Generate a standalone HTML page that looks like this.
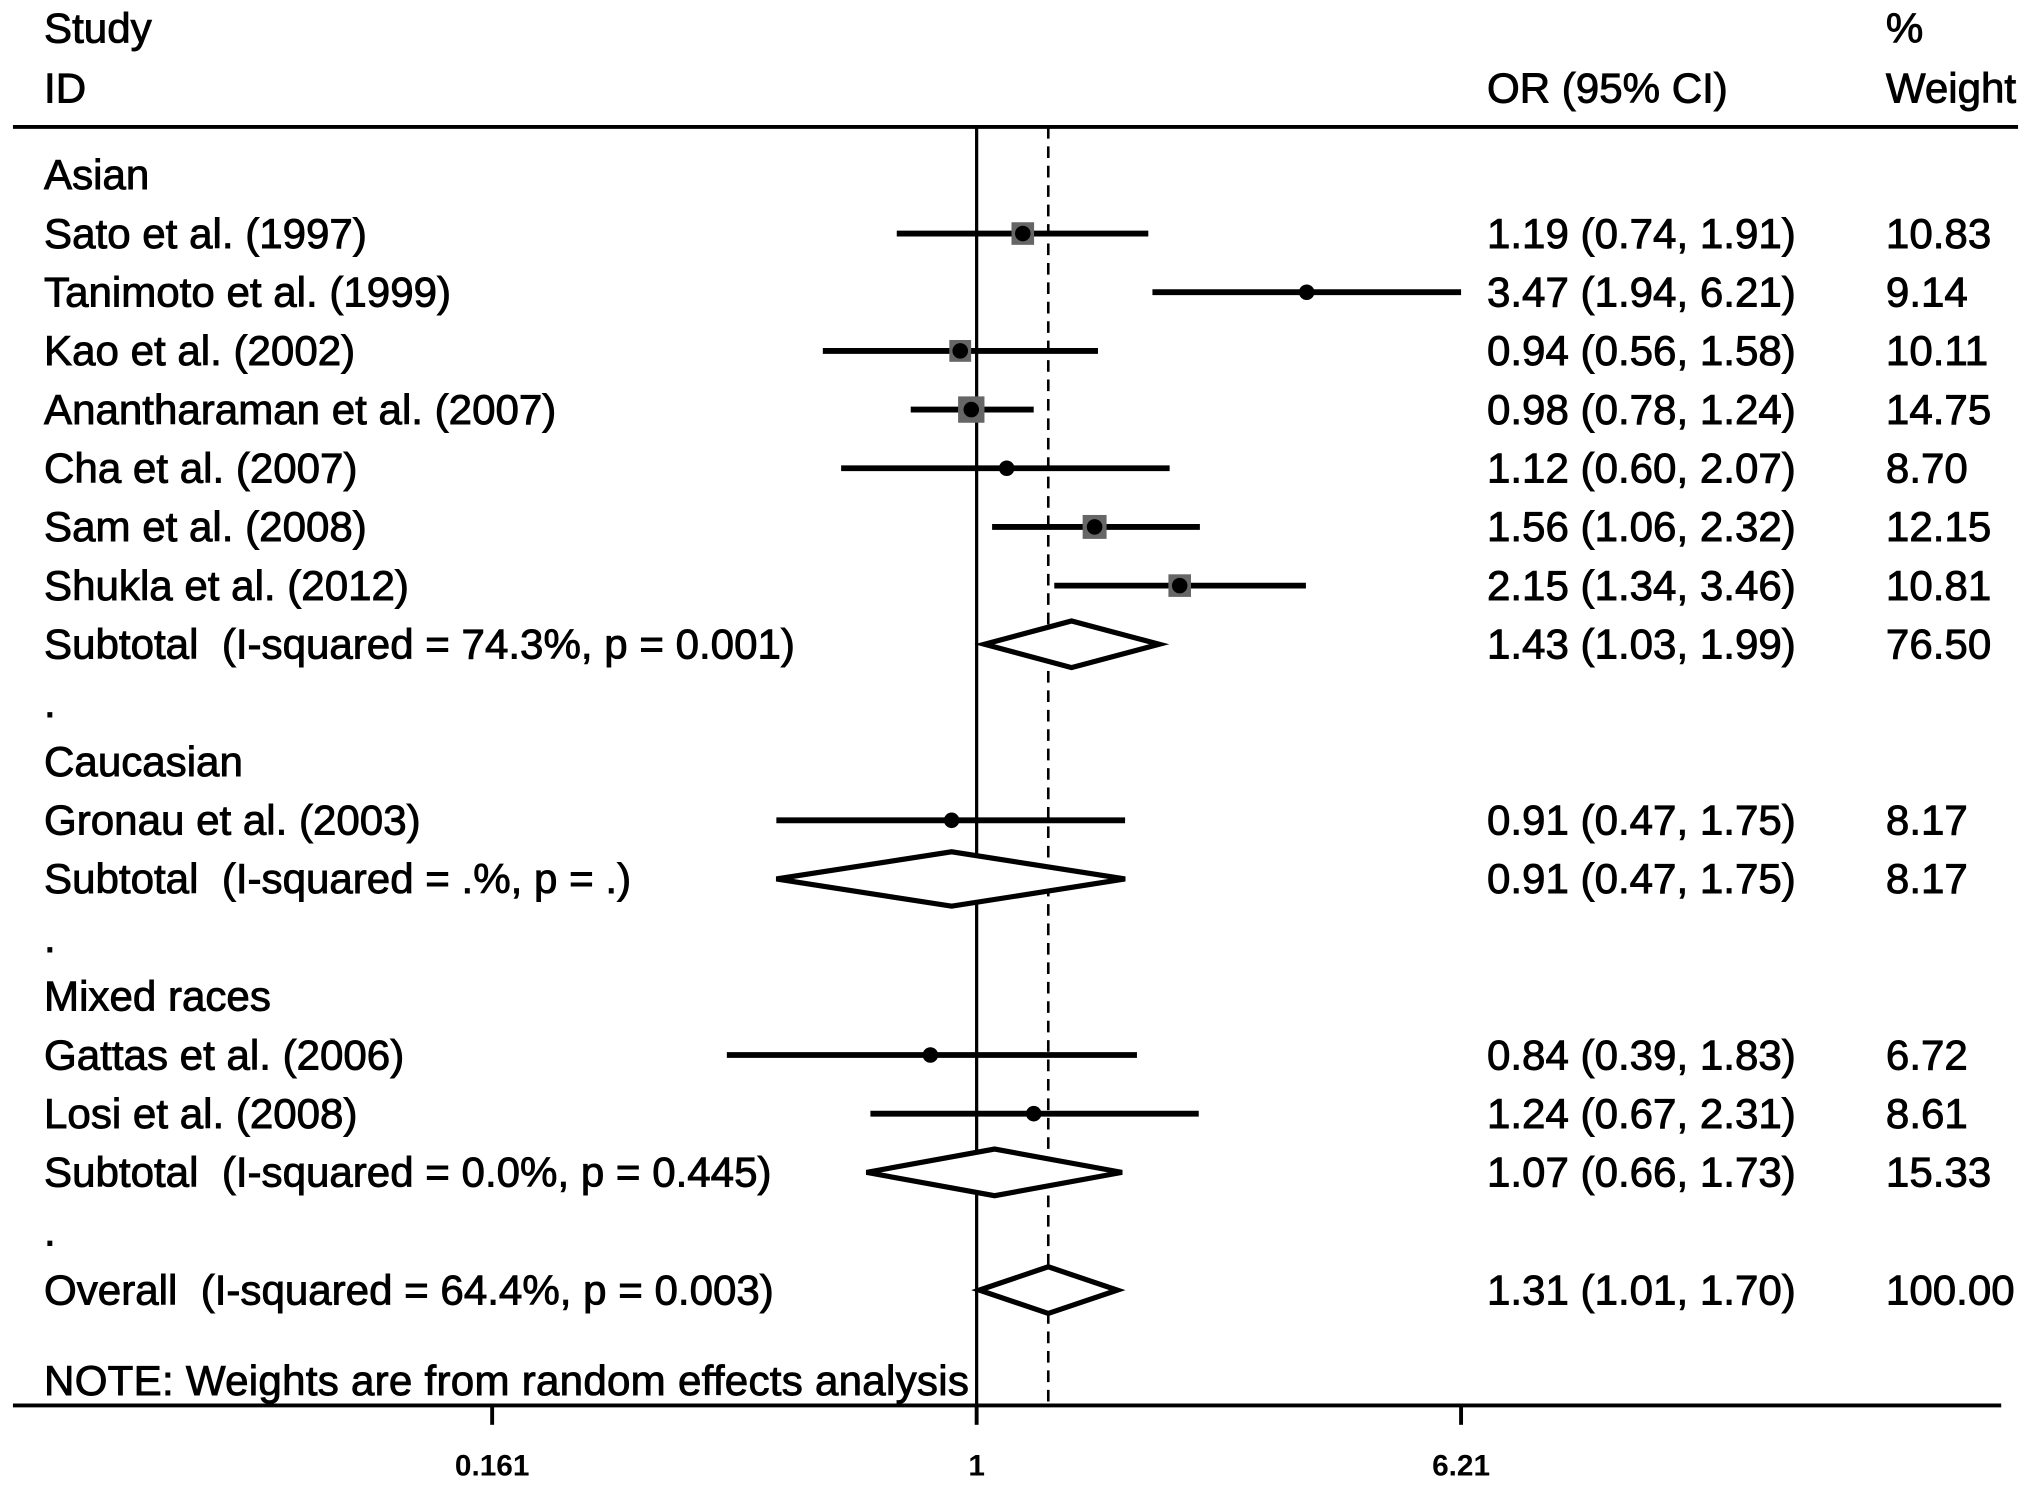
<!DOCTYPE html>
<html><head><meta charset="utf-8"><style>
html,body{margin:0;padding:0;background:#fff;}
svg{display:block;}
text{font-family:"Liberation Sans",Arial,sans-serif;fill:#000;white-space:pre;}
.t{stroke:#000;stroke-width:0.7;}
</style></head><body>
<svg id="chart" width="2031" height="1487" viewBox="0 0 1568 1148" xmlns="http://www.w3.org/2000/svg" xml:space="preserve">
<g id="static">
<text class="t" x="34" y="33" font-size="32.5">Study</text>
<text class="t" x="34" y="79" font-size="32.5">ID</text>
<text class="t" x="1148" y="79" font-size="32.5">OR (95% CI)</text>
<text class="t" x="1456" y="33" font-size="32.5">%</text>
<text class="t" x="1456" y="79" font-size="32.5">Weight</text>
<line x1="10" y1="98" x2="1558" y2="98" stroke="#000" stroke-width="3"/>
<line x1="10" y1="1085" x2="1545" y2="1085" stroke="#000" stroke-width="3"/>
<text class="t" x="34" y="1077" font-size="32.5" textLength="714">NOTE: Weights are from random effects analysis</text>
</g>
<g id="marks"></g>
</svg>
<script>
const labels=["Asian","Sato et al. (1997)","Tanimoto et al. (1999)","Kao et al. (2002)","Anantharaman et al. (2007)","Cha et al. (2007)","Sam et al. (2008)","Shukla et al. (2012)","Subtotal  (I-squared = 74.3%, p = 0.001)",".","Caucasian","Gronau et al. (2003)","Subtotal  (I-squared = .%, p = .)",".","Mixed races","Gattas et al. (2006)","Losi et al. (2008)","Subtotal  (I-squared = 0.0%, p = 0.445)",".","Overall  (I-squared = 64.4%, p = 0.003)"];
const rowTypes=["h","s","s","s","s","s","s","s","d","b","h","s","d","b","h","s","s","d","b","d"];
const estimates=[null,1.19,3.47,0.94,0.98,1.12,1.56,2.15,1.43,null,null,0.91,0.91,null,null,0.84,1.24,1.07,null,1.31];
const lowers=[null,0.74,1.94,0.56,0.78,0.60,1.06,1.34,1.03,null,null,0.47,0.47,null,null,0.39,0.67,0.66,null,1.01];
const uppers=[null,1.91,6.21,1.58,1.24,2.07,2.32,3.46,1.99,null,null,1.75,1.75,null,null,1.83,2.31,1.73,null,1.70];
const weights=[null,"10.83","9.14","10.11","14.75","8.70","12.15","10.81","76.50",null,null,"8.17","8.17",null,null,"6.72","8.61","15.33",null,"100.00"];
const tickValues=[0.161,1,6.21];
const tickLabels=["0.161","1","6.21"];
const overallOR=1.31;

const NS="http://www.w3.org/2000/svg";
const g=document.getElementById('marks');
const x=v=>754+204.8*Math.log(v);
function rowY(i){ return i<19 ? 135+i*45.3 : 996; }
function el(t,a){const e=document.createElementNS(NS,t);for(const k in a)e.setAttribute(k,a[k]);g.appendChild(e);return e;}
const fmt=v=>v.toFixed(2);

let l=el('line',{x1:x(1),y1:98,x2:x(1),y2:1085,stroke:'#000','stroke-width':2.5});


l=el('line',{x1:x(overallOR),y1:98,x2:x(overallOR),y2:1085,stroke:'#000','stroke-width':2,'stroke-dasharray':'9,6'});



tickValues.forEach((v,i)=>{
  const t=el('line',{x1:x(v),y1:1085,x2:x(v),y2:1100,stroke:'#000','stroke-width':3});
  
  
  const tx=el('text',{x:x(v),y:1139,'font-size':23,'font-weight':'bold','text-anchor':'middle'});
  tx.textContent=tickLabels[i];
  
  
});

labels.forEach((lab,i)=>{
  const y=rowY(i);
  const t=el('text',{x:34,y:y+11,'font-size':32.5,'class':'t'});
  t.textContent=lab;
  
  
  if(estimates[i]==null) return;
  const e=estimates[i],lo=lowers[i],hi=uppers[i];
  const ot=el('text',{x:1148,y:y+11,'font-size':32.5,'class':'t'});
  ot.textContent=fmt(e)+" ("+fmt(lo)+", "+fmt(hi)+")";
  
  
  const wt=el('text',{x:1456,y:y+11,'font-size':32.5,'class':'t'});
  wt.textContent=weights[i];
  
  
  if(rowTypes[i]==='s'){
    const ci=el('line',{x1:x(lo),y1:y,x2:x(hi),y2:y,stroke:'#000','stroke-width':4.5});
    
    
    const w=parseFloat(weights[i]);
    if(w>=10){
      const s=5.3*Math.sqrt(w);
      const b=el('rect',{x:x(e)-s/2,y:y-s/2,width:s,height:s,fill:'#666'});
      
      
    }
    const d=el('circle',{cx:x(e),cy:y,r:6,fill:'#000'});
    
    
  } else {
    const h=i===12?21:18;
    const p=el('polygon',{points:`${x(lo)},${y} ${x(e)},${y-h} ${x(hi)},${y} ${x(e)},${y+h}`,fill:'#fff',stroke:'#000','stroke-width':4});
    
    
  }
});
</script>
</body></html>
